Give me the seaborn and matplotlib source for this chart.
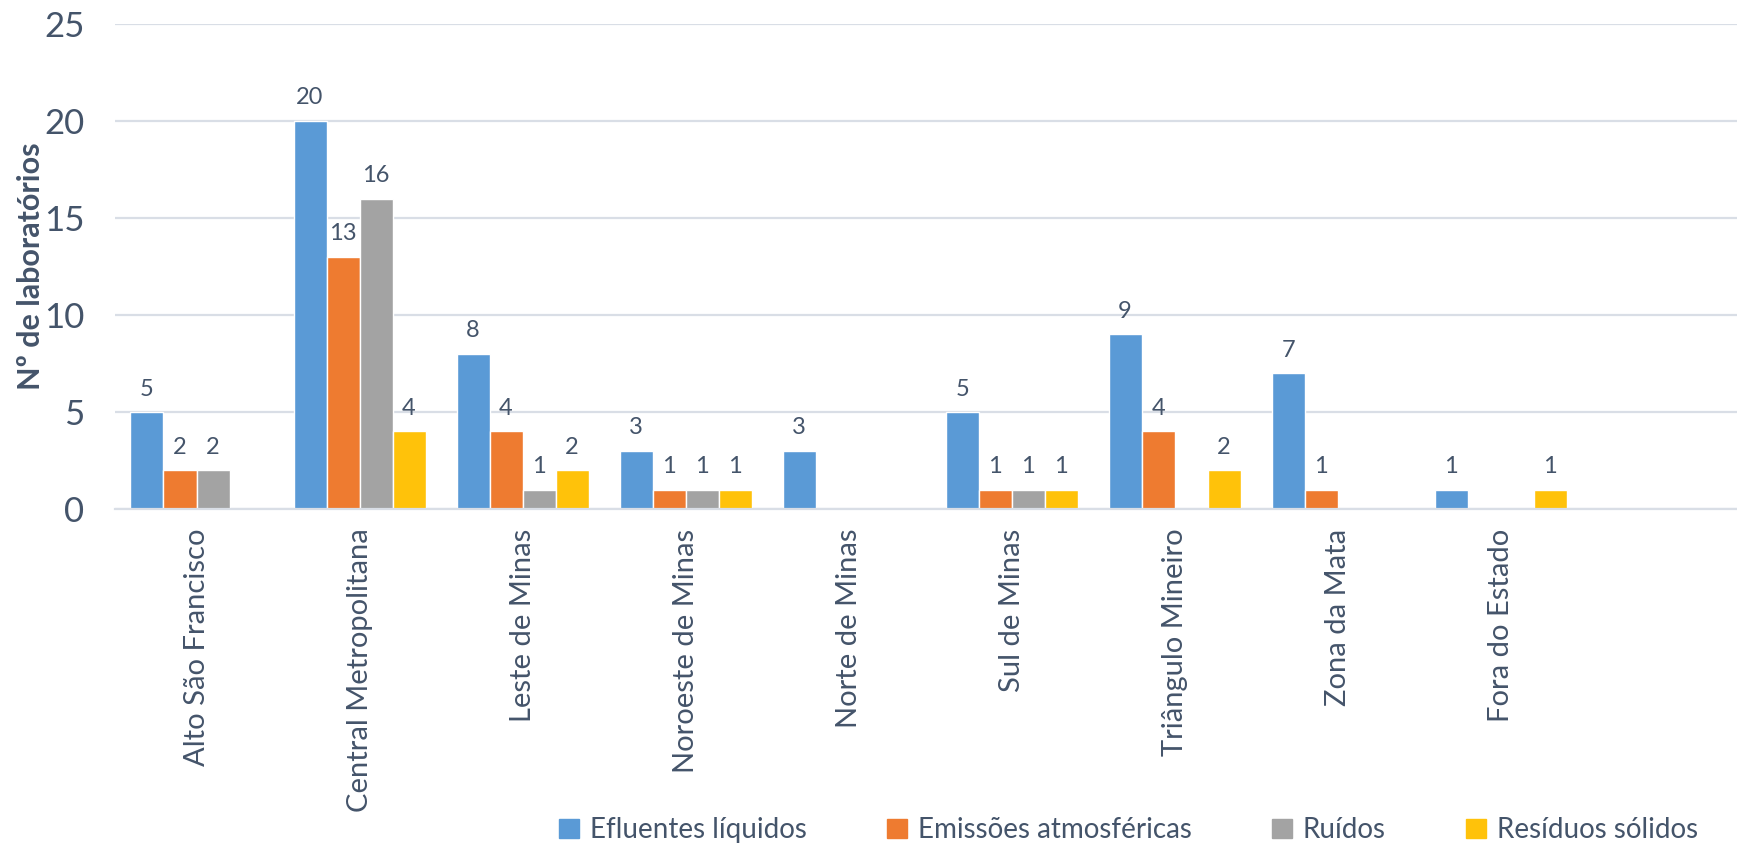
import pandas as pd
import matplotlib.pyplot as plt
import seaborn as sns

# Regiões e séries
regioes = ['Alto São Francisco', 'Central Metropolitana', 'Leste de Minas',
           'Noroeste de Minas', 'Norte de Minas', 'Sul de Minas',
           'Triângulo Mineiro', 'Zona da Mata', 'Fora do Estado']
efluentes = [5, 20, 8, 3, 3, 5, 9, 7, 1]
emissoes = [2, 13, 4, 1, 0, 1, 4, 1, 0]
ruidos = [2, 16, 1, 1, 0, 1, 0, 0, 0]
residuos = [0, 4, 2, 1, 0, 1, 2, 0, 1]

series = ['Efluentes líquidos', 'Emissões atmosféricas', 'Ruídos', 'Resíduos sólidos']
cores = ['#5A9AD6', '#EE7B30', '#A3A3A3', '#FFC20A']

df = pd.DataFrame({
    'regiao': regioes * 4,
    'tipo': [s for s in series for _ in regioes],
    'n': efluentes + emissoes + ruidos + residuos,
})

sns.set_style('white')
plt.rcParams['font.family'] = ['Lato', 'DejaVu Sans']
txt = '#44546A'

fig = plt.figure(figsize=(17.37, 8.43), dpi=100)
ax = fig.add_axes([115 / 1737, 1 - 509 / 843, 1 - 115 / 1737, (509 - 24) / 843])

sns.barplot(data=df, x='regiao', y='n', hue='tipo', order=regioes,
            hue_order=series, palette=cores, width=0.81, saturation=1,
            ax=ax, legend=False)

for c in ax.containers:
    labels = [f'{int(v)}' if v > 0 else '' for v in c.datavalues]
    ax.bar_label(c, labels=labels, padding=9, fontsize=17, color=txt)

ax.set_ylim(0, 25)
ax.set_yticks([0, 5, 10, 15, 20, 25])
ax.set_xlim(-0.5, 9.45)
ax.yaxis.grid(True, color='#D9DEE6', linewidth=1.6)
ax.set_axisbelow(True)
for s in ['top', 'right', 'left']:
    ax.spines[s].set_visible(False)
ax.spines['bottom'].set_color('#D9DEE6')
ax.spines['bottom'].set_linewidth(1.6)

ax.tick_params(axis='y', length=0, pad=22, labelsize=25, labelcolor=txt)
ax.tick_params(axis='x', length=0, pad=14, labelsize=21, labelcolor=txt)
plt.setp(ax.get_xticklabels(), rotation=90, ha='center', va='top')

ax.set_xlabel('')
ax.set_ylabel('Nº de laboratórios', fontsize=22, fontweight='bold', color=txt, va='center')
ax.yaxis.set_label_coords(-0.052, 0.5)

handles = [plt.Rectangle((0, 0), 1, 1, color=c) for c in cores]
fig.legend(handles, series, loc='lower right', bbox_to_anchor=(0.992, -0.03),
           ncol=4, frameon=False, fontsize=20, labelcolor=txt,
           handlelength=0.7, handleheight=0.7, handletextpad=0.4, columnspacing=2.9)

fig.savefig('out.png', dpi=100)
